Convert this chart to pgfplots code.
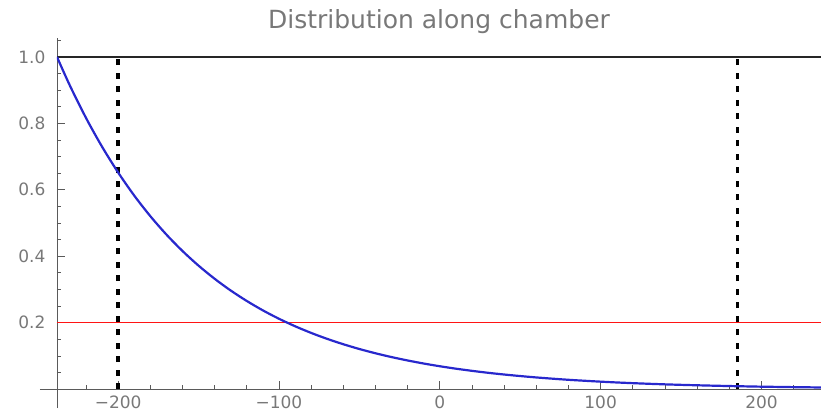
\documentclass[border=0pt]{standalone}
\usepackage{pgfplots}
\pgfplotsset{compat=1.18}
\usepackage{fontspec}
\setmainfont{DejaVu Sans}
\definecolor{mblue}{RGB}{40,40,205}
\definecolor{mred}{RGB}{255,20,20}
\definecolor{txtgray}{RGB}{120,120,120}
\definecolor{axgray}{RGB}{90,90,90}
\begin{document}
\begin{tikzpicture}
\begin{axis}[name=ax, scale only axis, width=764pt, height=370pt,
  xmin=-238, xmax=237, ymin=-0.057, ymax=1.057,
  axis x line=middle, axis y line=left,
  axis line style={-, draw=axgray, line width=0.8pt},
  x axis line style={shorten <=-17pt},
  xtick={-200,-100,0,100,200},
  xticklabels={−200,−100,0,100,200},
  minor xtick={-220,-180,-160,-140,-120,-80,-60,-40,-20,20,40,60,80,120,140,160,180,220},
  ytick={0.2,0.4,0.6,0.8,1.0},
  yticklabels={0.2,0.4,0.6,0.8,1.0},
  minor ytick={0.05,0.1,0.15,0.25,0.3,0.35,0.45,0.5,0.55,0.65,0.7,0.75,0.85,0.9,0.95,1.05},
  tick align=inside,
  major tick length=8pt, minor tick length=4pt,
  tick style={draw=axgray, line width=0.7pt},
  ticklabel style={font=\fontsize{17}{19}\selectfont, text=txtgray},
  yticklabel style={xshift=-8pt},
  xticklabel style={yshift=-3pt},
  title={Distribution along chamber},
  title style={font=\fontsize{25}{28}\selectfont, text=txtgray, yshift=-5pt},
  clip=true,
]
\addplot[black!85, line width=1.3pt] coordinates {(-238,1) (237,1)};
\addplot[mred, line width=1.6pt] coordinates {(-238,0.2) (237,0.2)};
\addplot[black, line width=3.3pt, dash pattern=on 6pt off 7.5pt] coordinates {(-200,0) (-200,1)};
\addplot[black, line width=3.3pt, dash pattern=on 6pt off 7.5pt] coordinates {(185,0) (185,1)};
\addplot[mblue, line width=2.2pt, smooth] coordinates {
(-238,1) (-230,0.9139) (-220,0.8167) (-210,0.7298) (-200,0.6522) (-190,0.5827)
(-180,0.5207) (-170,0.4653) (-160,0.4158) (-150,0.3716) (-140,0.3321) (-130,0.2967)
(-120,0.2652) (-110,0.2369) (-100,0.2117) (-90,0.1892) (-80,0.1691) (-70,0.1511)
(-60,0.1350) (-50,0.1206) (-40,0.1078) (-30,0.0963) (-20,0.0861) (-10,0.0769)
(0,0.0687) (10,0.0614) (20,0.0549) (30,0.0490) (40,0.0438) (50,0.0392) (60,0.0350)
(70,0.0313) (80,0.0279) (90,0.0250) (100,0.0223) (110,0.0199) (120,0.0178)
(130,0.0159) (140,0.0142) (150,0.0127) (160,0.0114) (170,0.0102) (180,0.0091)
(190,0.0081) (200,0.0072) (210,0.0065) (220,0.0058) (230,0.0052) (237,0.0047)};
\end{axis}
\pgfresetboundingbox
\path ([xshift=-57pt,yshift=-4pt]ax.south west) rectangle ([yshift=38pt]ax.north east);
\end{tikzpicture}
\end{document}
